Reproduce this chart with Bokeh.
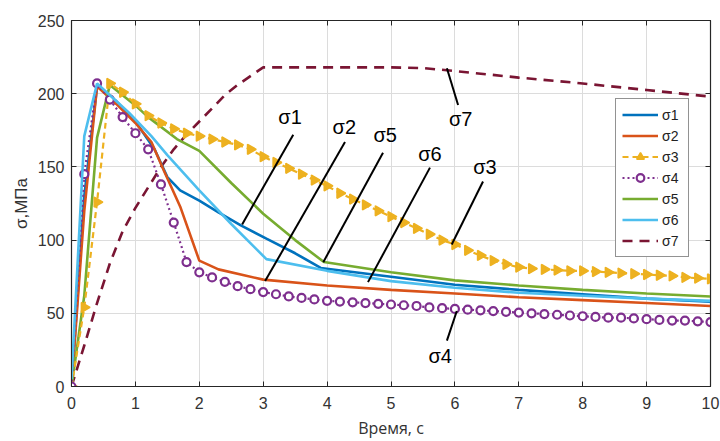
from bokeh.plotting import figure
from bokeh.models import (Range1d, LinearAxis, Legend, LegendItem, FixedTicker,
                          CustomLabelingPolicy)
from bokeh.core.properties import value
from bokeh.embed import file_html
from bokeh.resources import INLINE
import math

# ---------------- data ----------------
t_mark = [round(0.2 * i, 1) for i in range(51)]

s3 = [0, 54, 126, 207, 201, 193, 185, 180, 176, 173,
      171, 169, 167, 165, 162, 157, 153, 149, 145, 141,
      137, 132, 128, 124, 120, 116, 112, 108, 104, 100,
      97, 93, 89.5, 86, 83.5, 81.5, 80.5, 80, 79.5, 79,
      79, 78.5, 78, 77.5, 77, 76.5, 76, 75.5, 74.5, 74, 73.5]

s4 = [0, 145, 207, 196, 184, 173, 162, 138, 112, 85,
      78, 74.5, 71.5, 68.5, 66.5, 64.5, 63, 61.5, 60.5, 59.5,
      58.5, 58, 57.5, 57, 56.5, 56, 55.5, 55, 54, 53.5,
      53, 52.5, 52, 51.5, 51, 50.5, 50, 49.5, 49, 48.5,
      48, 47.5, 47, 47, 46.5, 46, 45.5, 45, 45, 44.5, 44]

t1 = [0, 0.2, 0.4, 0.7, 1.0, 1.3, 1.5, 1.7, 2.0, 2.3, 2.65, 3.05, 3.5, 3.9, 5, 6, 7, 8, 9, 10]
s1 = [0, 130, 205, 195, 181, 162, 143, 134, 127, 119, 110, 101, 91, 81, 75, 69.5, 66, 63, 60, 58]

t2 = [0, 0.2, 0.4, 0.7, 1.0, 1.25, 1.45, 1.7, 2.0, 2.3, 3.0, 4, 5, 6, 7, 8, 9, 10]
s2 = [0, 120, 205, 193, 180, 167, 147, 123, 86, 80, 73, 69, 66, 63.5, 61, 59, 57, 55]

t5 = [0, 0.2, 0.4, 0.6, 1.0, 1.2, 1.65, 2.0, 2.5, 3.0, 3.5, 3.95, 5, 6, 7, 8, 9, 10]
s5 = [0, 62, 170, 206, 192, 184, 169, 161, 139, 118, 100, 85, 78, 72.5, 69, 66, 63.5, 61.5]

t6 = [0, 0.2, 0.4, 0.9, 1.25, 1.5, 2.0, 2.5, 3.05, 4, 5, 6, 7, 8, 9, 10]
s6 = [5, 171, 207, 187, 171, 158, 134, 111, 87, 79, 72, 67.5, 64, 62, 60, 58.5]

t7 = [0, 0.2, 0.4, 0.6, 0.8, 1.0, 1.2, 1.4, 1.6, 1.8, 2.0, 2.2, 2.4, 2.6, 2.8, 3.0,
      4, 5, 5.5, 6, 7, 8, 9, 10]
s7 = [0, 28, 57, 84, 106, 122, 136, 150, 162, 172, 181, 190, 199, 206, 212, 218,
      218, 218, 217.5, 215.5, 211, 207, 202.5, 198]

x_ticks = [0, 1, 2, 3, 4, 5, 6, 7, 8, 9, 10]
y_ticks = [0, 50, 100, 150, 200, 250]

# annotation labels (text position, leader line start/end)
lab_text = ["σ1", "σ2", "σ5", "σ6", "σ3", "σ7", "σ4"]
lab_x = [3.42, 4.27, 4.91, 5.61, 6.47, 6.09, 5.77]
lab_y = [184, 177.5, 172, 159, 150, 182.5, 21]
lead_x0 = [3.47, 4.28, 4.875, 5.61, 6.44, 6.05, 5.875]
lead_y0 = [172, 167, 159.6, 149.5, 140, 192.3, 31.3]
lead_x1 = [2.67, 3.03, 3.94, 4.64, 5.95, 5.875, 6.03]
lead_y1 = [110.7, 72, 84.9, 71.3, 97, 217.4, 51.6]

colors = {
    "s1": "#0072BD", "s2": "#D95319", "s3": "#EDB120", "s4": "#7E2F8E",
    "s5": "#77AC30", "s6": "#4DBEEE", "s7": "#7A1533",
}

# ---------------- figure ----------------
p = figure(width=720, height=441, output_backend="svg", toolbar_location=None,
           x_range=Range1d(0, 10), y_range=Range1d(0, 250),
           min_border_left=71, min_border_right=10, min_border_top=20,
           min_border_bottom=52)
p.background_fill_color = "white"
p.border_fill_color = "white"
p.outline_line_color = "#262626"
p.outline_line_width = 1.2

for ax in (p.xaxis[0], p.yaxis[0]):
    ax.major_tick_in = 5
    ax.major_tick_out = 0
    ax.minor_tick_in = 0
    ax.minor_tick_out = 0
    ax.axis_line_color = "#262626"
    ax.major_tick_line_color = "#262626"
    ax.major_label_text_font = "Liberation Sans"
    ax.major_label_text_font_size = "16px"
    ax.major_label_text_color = "#333333"

p.xaxis.ticker = FixedTicker(ticks=x_ticks)
p.yaxis.ticker = FixedTicker(ticks=y_ticks)
p.xaxis.axis_label = "Время, с"
p.xaxis.axis_label_text_font = "Open Sans"
p.xaxis.axis_label_text_font_style = "normal"
p.xaxis.axis_label_text_font_size = "16px"
p.xaxis.axis_label_text_color = "#333333"
p.xaxis.major_label_standoff = 10
p.xaxis.axis_label_standoff = 5
p.yaxis.axis_label = "σ,МПа"
p.yaxis.axis_label_text_font = "Liberation Sans"
p.yaxis.axis_label_text_font_style = "normal"
p.yaxis.axis_label_text_font_size = "17px"
p.yaxis.axis_label_text_color = "#333333"
p.yaxis.major_label_standoff = 7
p.yaxis.axis_label_standoff = 4

no_labels = CustomLabelingPolicy(code="""
for (const i of indices) { indices.unset(i) }
return indices
""")
for loc, tk in (("right", y_ticks), ("above", x_ticks)):
    ax = LinearAxis(ticker=FixedTicker(ticks=tk), major_label_policy=no_labels)
    ax.major_tick_in = 5
    ax.major_tick_out = 0
    ax.minor_tick_in = 0
    ax.minor_tick_out = 0
    ax.axis_line_color = "#262626"
    ax.major_tick_line_color = "#262626"
    ax.major_label_standoff = 0
    ax.major_label_text_font_size = "0px"
    p.add_layout(ax, loc)

p.xgrid.grid_line_color = "#dcdcdc"
p.ygrid.grid_line_color = "#dcdcdc"
p.xgrid.ticker = FixedTicker(ticks=x_ticks)
p.ygrid.ticker = FixedTicker(ticks=y_ticks)

# ---------------- series ----------------
r7 = p.line(t7, s7, line_color=colors["s7"], line_width=2.6, line_dash="10 7")
r1 = p.line(t1, s1, line_color=colors["s1"], line_width=2.6)
r2 = p.line(t2, s2, line_color=colors["s2"], line_width=2.6)
r5 = p.line(t5, s5, line_color=colors["s5"], line_width=2.6)
r3l = p.line(t_mark, s3, line_color=colors["s3"], line_width=2.2, line_dash="6 4")
r3m = p.scatter(t_mark, s3, marker="triangle", size=10, angle=-math.pi / 2,
                fill_color=colors["s3"], line_color=colors["s3"], line_width=1.5)
r4l = p.line(t_mark, s4, line_color=colors["s4"], line_width=2.2, line_dash="2 3")
r4m = p.scatter(t_mark, s4, marker="circle", size=8, fill_color="white",
                line_color=colors["s4"], line_width=2.2)
r6 = p.line(t6, s6, line_color=colors["s6"], line_width=2.6)

# ---------------- annotations ----------------
p.segment(x0=lead_x0, y0=lead_y0, x1=lead_x1, y1=lead_y1,
          line_color="black", line_width=2)
p.text(x=lab_x, y=lab_y, text=lab_text, text_font=value("Liberation Sans"),
       text_font_size="20px", text_align="center", text_baseline="middle",
       text_color="black")

# ---------------- legend ----------------
legend = Legend(items=[
    LegendItem(label="σ1", renderers=[r1]),
    LegendItem(label="σ2", renderers=[r2]),
    LegendItem(label="σ3", renderers=[r3l, r3m]),
    LegendItem(label="σ4", renderers=[r4l, r4m]),
    LegendItem(label="σ5", renderers=[r5]),
    LegendItem(label="σ6", renderers=[r6]),
    LegendItem(label="σ7", renderers=[r7]),
], location=(544, 129))
legend.glyph_width = 36
legend.glyph_height = 19
legend.label_height = 19
legend.spacing = 2
legend.padding = 6
legend.margin = 0
legend.label_standoff = 4
legend.label_text_font = "Liberation Sans"
legend.label_text_font_size = "14px"
legend.label_text_color = "#222222"
legend.border_line_color = "#262626"
legend.border_line_width = 1.2
legend.background_fill_color = "white"
legend.background_fill_alpha = 1
p.add_layout(legend, "center")

open("out.html", "w").write(file_html(p, INLINE))
